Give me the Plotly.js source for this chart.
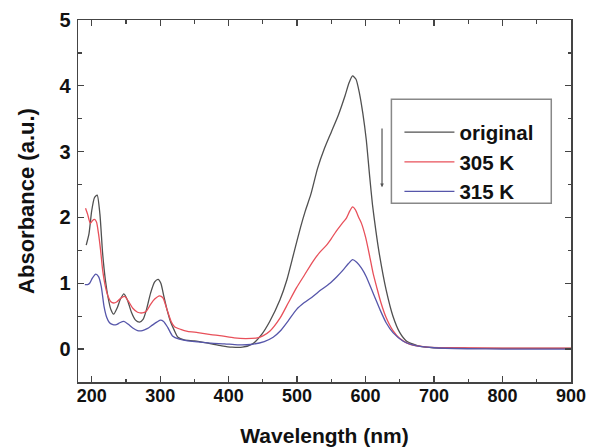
<!DOCTYPE html>
<html>
<head>
<meta charset="utf-8">
<script src="https://cdn.plot.ly/plotly-3.0.1.min.js"></script>
<style>html,body{margin:0;padding:0;background:#fff;}#chart{width:589px;height:447px;}</style>
</head>
<body>
<div id="chart"></div>
<script>
// Wavelength (nm) and absorbance (a.u.)
var seriesNames = ["original", "305 K", "315 K"];

var wlOriginal = [192,196,200,204,208,212,216,220,224,228,232,237,242,247,252,258,264,270,275,280,286,292,297,301,305,310,315,320,326,335,350,370,390,405,420,435,448,460,475,485,495,505,512,520,530,540,550,560,570,576,581,586,591,596,601,606,610,615,620,630,640,650,660,680,700,750,800,850,900];
var absOriginal = [1.58,1.75,2.1,2.3,2.34,2.05,1.45,1.05,0.78,0.6,0.53,0.62,0.76,0.84,0.75,0.56,0.44,0.41,0.45,0.6,0.85,1.02,1.06,1.0,0.82,0.6,0.42,0.3,0.18,0.14,0.125,0.09,0.05,0.03,0.03,0.08,0.22,0.42,0.75,1.05,1.45,1.85,2.1,2.35,2.75,3.05,3.3,3.55,3.85,4.05,4.15,4.1,3.89,3.58,3.18,2.62,2.2,1.8,1.45,0.9,0.5,0.25,0.12,0.04,0.02,0.012,0.01,0.01,0.01];

var wl305 = [191,194,198,201,204,207,210,213,216,220,224,228,232,237,242,248,254,260,267,274,280,286,292,299,304,310,316,321,330,340,355,374,390,408,425,442,450,460,475,487,499,511,523,533,543,550,557,565,572,577,581,585,590,594,600,606,611,616,622,630,640,650,665,690,720,800,900];
var abs305 = [2.14,2.05,1.91,1.95,1.97,1.93,1.75,1.5,1.2,0.95,0.8,0.72,0.7,0.72,0.77,0.8,0.72,0.62,0.56,0.55,0.58,0.68,0.76,0.81,0.78,0.6,0.42,0.34,0.3,0.27,0.25,0.22,0.2,0.17,0.16,0.17,0.2,0.27,0.47,0.7,0.93,1.13,1.33,1.47,1.58,1.68,1.79,1.9,1.99,2.1,2.16,2.12,2.0,1.91,1.7,1.41,1.15,0.95,0.72,0.48,0.28,0.16,0.07,0.03,0.02,0.015,0.015];

var wl315 = [190,194,197,201,206,210,214,218,222,226,231,236,241,247,253,260,267,274,281,288,295,300,305,311,318,328,340,356,374,394,413,432,452,465,475,487,499,511,523,535,548,558,567,575,581,587,594,601,609,615,621,630,640,655,670,700,750,800,900];
var abs315 = [0.98,0.98,1.0,1.08,1.14,1.1,0.95,0.65,0.48,0.4,0.37,0.37,0.4,0.42,0.38,0.32,0.28,0.28,0.31,0.36,0.41,0.44,0.42,0.33,0.2,0.15,0.125,0.11,0.09,0.08,0.065,0.07,0.115,0.18,0.27,0.43,0.6,0.71,0.8,0.9,1.0,1.1,1.2,1.3,1.36,1.32,1.23,1.1,0.9,0.75,0.6,0.4,0.25,0.12,0.06,0.02,0.005,0.0,0.0];

var xTickVals = [200,300,400,500,600,700,800,900];
var yTickVals = [0,1,2,3,4,5];

var FONT = "Liberation Sans, Arial, sans-serif";
var colors = ["#505050", "#e8505a", "#5656aa"];
var xs = [wlOriginal, wl305, wl315];
var ys = [absOriginal, abs305, abs315];

var traces = seriesNames.map(function(n, i){
  return {
    x: xs[i], y: ys[i], name: n, type: "scatter", mode: "lines",
    line: {color: colors[i], width: 1.3, shape: "spline", smoothing: 0.6}
  };
});

var axisCommon = {
  showline: true, linecolor: "#444", linewidth: 1.5, mirror: "ticks",
  ticks: "inside", ticklen: 6, tickwidth: 1.3, tickcolor: "#444",
  showgrid: false, zeroline: false
};

var layout = {
  width: 589, height: 447,
  margin: {l: 78, r: 18, t: 20, b: 65},
  paper_bgcolor: "#fff", plot_bgcolor: "#fff",
  font: {family: FONT, color: "#111"},
  xaxis: Object.assign({}, axisCommon, {
    range: [180, 900], tickvals: xTickVals, ticktext: xTickVals.map(String),
    tickfont: {family: FONT, size: 18, weight: "bold", color: "#111"},
    ticklabelstandoff: -3,
    minor: {dtick: 50, tick0: 0, ticks: "inside", ticklen: 3.5, tickwidth: 1.2, tickcolor: "#444"},
    title: {text: "Wavelength (nm)", font: {family: FONT, size: 21, weight: "bold", color: "#111"}, standoff: 24}
  }),
  yaxis: Object.assign({}, axisCommon, {
    range: [-0.5, 5], tickvals: yTickVals, ticktext: yTickVals.map(String),
    tickfont: {family: FONT, size: 20, weight: "bold", color: "#111"},
    ticklabelstandoff: 2,
    minor: {dtick: 0.5, tick0: 0, ticks: "inside", ticklen: 3.5, tickwidth: 1.2, tickcolor: "#444"},
    title: {text: "Absorbance (a.u.)", font: {family: FONT, size: 22, weight: "bold", color: "#111"}, standoff: 18}
  }),
  showlegend: true,
  legend: {
    x: 0.652, y: 0.745, xanchor: "left", yanchor: "top",
    bgcolor: "rgba(0,0,0,0)", borderwidth: 0,
    font: {family: FONT, size: 20.5, weight: "bold", color: "#111"},
    itemwidth: 50
  },
  shapes: [{
    type: "rect", xref: "paper", yref: "paper",
    x0: 0.6357, x1: 0.960, y0: 0.494, y1: 0.781,
    line: {color: "#888", width: 1.5}, fillcolor: "rgba(0,0,0,0)"
  }],
  annotations: [{
    x: 624, y: 2.46, ax: 624, ay: 3.375, xref: "x", yref: "y", axref: "x", ayref: "y",
    text: "", showarrow: true, arrowhead: 2, arrowsize: 0.6, arrowwidth: 1.2, arrowcolor: "#555"
  }]
};

Plotly.newPlot("chart", traces, layout, {staticPlot: true, displayModeBar: false});
</script>
</body>
</html>
